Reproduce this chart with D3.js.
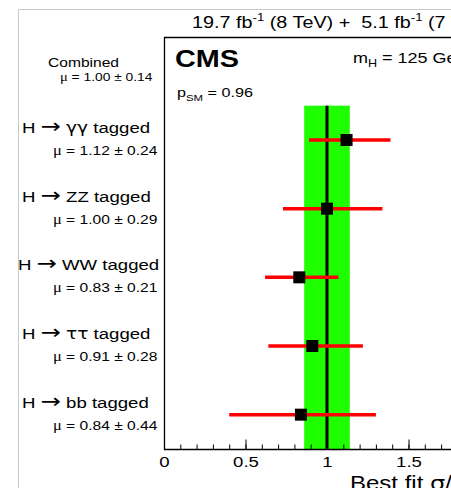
<!DOCTYPE html>
<html>
<head>
<meta charset="utf-8">
<script src="https://cdn.jsdelivr.net/npm/d3@7"></script>
<style>
  body { margin: 0; background: #fff; }
  text { font-family: "Liberation Sans", Arial, Helvetica, sans-serif; fill: #000; }
</style>
</head>
<body>
<div id="chart"></div>
<script>
// rows, top to bottom
var categories = ["Combined", "H \u2192 \u03b3\u03b3 tagged", "H \u2192 ZZ tagged",
                  "H \u2192 WW tagged", "H \u2192 \u03c4\u03c4 tagged", "H \u2192 bb tagged"];
var muText = ["\u03bc = 1.00 \u00b1 0.14", "\u03bc = 1.12 \u00b1 0.24", "\u03bc = 1.00 \u00b1 0.29",
              "\u03bc = 0.83 \u00b1 0.21", "\u03bc = 0.91 \u00b1 0.28", "\u03bc = 0.84 \u00b1 0.44"];
var muVal = [1.00, 1.12, 1.00, 0.83, 0.91, 0.84];
var errLo = [0.86, 0.89, 0.73, 0.62, 0.64, 0.40];
var errHi = [1.14, 1.39, 1.34, 1.07, 1.22, 1.30];
var xTicks = [0, 0.5, 1, 1.5, 2];

var width = 451, height = 488;
var frame = {left: 164, top: 37, bottom: 449};
var SX = 1.2; // the original picture is stretched sideways

var svg = d3.select("#chart")
	.append("svg")
	.attr("width", width)
	.attr("height", height);

var x = d3.scaleLinear().domain([0, 2.5]).range([frame.left, frame.left + 163 * 2.5]);
var y = d3.scaleBand().domain(categories).range([frame.top, frame.bottom]);
var yc = function(c) { return y(c) + y.bandwidth() / 2; };

// text placed with the sideways stretch
function label(px, py, size) {
	return svg.append("text")
		.attr("transform", "translate(" + px + "," + py + ") scale(" + SX + ",1)")
		.attr("font-size", size);
}

// split a string into runs so arrows and greek get their own font
function rich(t, str, size) {
	var runs = [], cur = null;
	for (var i = 0; i < str.length; i++) {
		var ch = str[i], k = "n";
		if (ch === "\u2192") k = "a";
		else if (ch >= "\u0370" && ch <= "\u03ff") k = ch === "\u03bc" ? "m" : "g";
		if (!cur || cur.k !== k) { cur = {k: k, s: ""}; runs.push(cur); }
		cur.s += ch;
	}
	runs.forEach(function(r) {
		var ts = t.append("tspan").text(r.s);
		if (r.k === "a") ts.style("font-family", "'DejaVu Sans'").attr("font-size", size * 1.3);
		if (r.k === "g") ts.style("font-family", "'DejaVu Sans'").attr("font-size", size);
		if (r.k === "m") ts.style("font-family", "'Liberation Serif'").attr("font-size", size * 1.05);
	});
	return t;
}

// outer canvas border (light grey)
svg.append("path")
	.attr("d", "M18.5," + height + "V9.5H" + width)
	.attr("fill", "none")
	.attr("stroke", "#c8c8c8")
	.attr("stroke-width", 1);

// combined band
var comb = categories[0];
svg.append("rect")
	.attr("x", x(errLo[0]))
	.attr("width", x(errHi[0]) - x(errLo[0]))
	.attr("y", y(comb) + y.bandwidth())
	.attr("height", frame.bottom - y(comb) - y.bandwidth())
	.attr("fill", "#20ff00");

svg.append("line")
	.attr("x1", x(muVal[0])).attr("x2", x(muVal[0]))
	.attr("y1", y(comb) + y.bandwidth())
	.attr("y2", frame.bottom)
	.attr("stroke", "#000")
	.attr("stroke-width", 3);

// per channel error bars and markers
var rows = categories.slice(1).map(function(c, i) {
	return {cat: c, mu: muVal[i + 1], lo: errLo[i + 1], hi: errHi[i + 1], txt: muText[i + 1]};
});

svg.selectAll(".err")
	.data(rows)
	.enter().append("line")
	.attr("class", "err")
	.attr("x1", function(d) { return x(d.lo); })
	.attr("x2", function(d) { return x(d.hi); })
	.attr("y1", function(d) { return yc(d.cat); })
	.attr("y2", function(d) { return yc(d.cat); })
	.attr("stroke", "#ff0000")
	.attr("stroke-width", 3.5);

svg.selectAll(".pt")
	.data(rows)
	.enter().append("rect")
	.attr("class", "pt")
	.attr("x", function(d) { return x(d.mu) - 6; })
	.attr("y", function(d) { return yc(d.cat) - 6; })
	.attr("width", 12)
	.attr("height", 12)
	.attr("fill", "#000");

// frame
svg.append("line")
	.attr("x1", frame.left).attr("x2", width)
	.attr("y1", frame.top + 0.5).attr("y2", frame.top + 0.5)
	.attr("stroke", "#000").attr("stroke-width", 1.3);
svg.append("line")
	.attr("x1", frame.left + 0.5).attr("x2", frame.left + 0.5)
	.attr("y1", frame.top).attr("y2", frame.bottom + 1)
	.attr("stroke", "#000").attr("stroke-width", 1.3);
svg.append("line")
	.attr("x1", frame.left).attr("x2", width)
	.attr("y1", frame.bottom + 0.5).attr("y2", frame.bottom + 0.5)
	.attr("stroke", "#000").attr("stroke-width", 1.3);

// x axis: ticks point inward
var minor = d3.range(0, 2.51, 0.1);
svg.append("g")
	.attr("transform", "translate(0," + (frame.bottom + 0.5) + ")")
	.call(d3.axisBottom(x).tickValues(minor).tickSize(-5).tickFormat(""))
	.call(function(g) {
		g.select(".domain").remove();
		g.selectAll("line").attr("stroke", "#000");
	});

var ax = svg.append("g")
	.attr("transform", "translate(0," + (frame.bottom + 0.5) + ")")
	.call(d3.axisBottom(x).tickValues(xTicks).tickSize(-10).tickPadding(6)
		.tickFormat(function(d) { return d3.format("")(d); }));
ax.select(".domain").remove();
ax.selectAll("line").attr("stroke", "#000");
ax.selectAll("text")
	.attr("font-size", 15.5)
	.attr("transform", "scale(" + SX + ",1)")
	.attr("x", function(d) { return 0; })
	.style("font-family", "'Liberation Sans', Arial, sans-serif");

// axis title
var xt = label(350, 490, 20);
rich(xt.append("tspan"), "Best fit \u03c3/\u03c3", 20);
xt.append("tspan").attr("font-size", 14).attr("dy", 4).text("SM");

// row labels
label(48, yc(comb) - 4, 13).text(comb);
rich(label(60, yc(comb) + 10, 11.5), muText[0], 11.5);

rows.forEach(function(d) {
	var lx = d.cat.indexOf("WW") > 0 ? 18 : 22;
	rich(label(lx, yc(d.cat) - 7, 15.5), d.cat, 15.5);
	rich(label(53, yc(d.cat) + 15, 13), d.txt, 13);
});

// header
var lumi = label(192, 28, 16.5);
lumi.append("tspan").text("19.7 fb");
lumi.append("tspan").attr("font-size", 11).attr("dy", -7).text("-1");
lumi.append("tspan").attr("dy", 7).text(" (8 TeV) +\u00a0 5.1 fb");
lumi.append("tspan").attr("font-size", 11).attr("dy", -7).text("-1");
lumi.append("tspan").attr("dy", 7).text(" (7 TeV)");

label(175, 67, 24).attr("font-weight", "bold").text("CMS");

var mh = label(353, 63, 15);
mh.append("tspan").text("m");
mh.append("tspan").attr("font-size", 10.5).attr("dy", 4).text("H");
mh.append("tspan").attr("dy", -4).text(" = 125 GeV");

var psm = label(177, 97, 13.5);
psm.append("tspan").text("p");
psm.append("tspan").attr("font-size", 9.5).attr("dy", 4).text("SM");
psm.append("tspan").attr("dy", -4).text(" = 0.96");
</script>
</body>
</html>
